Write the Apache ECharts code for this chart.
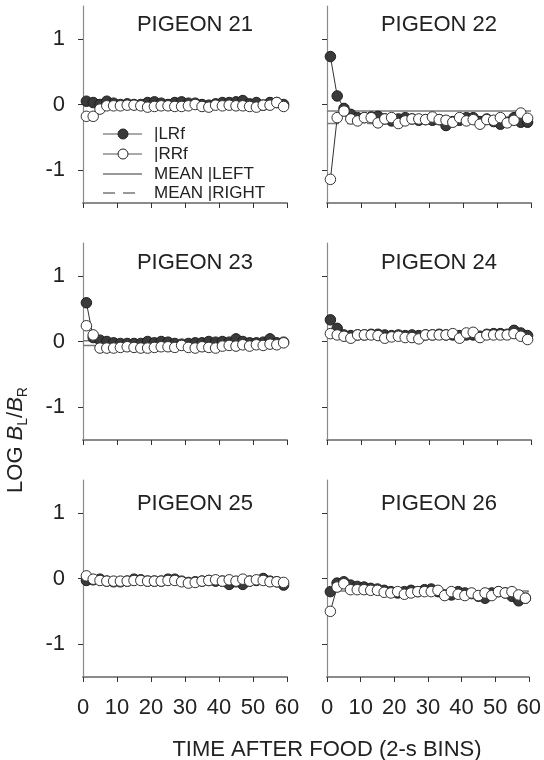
<!DOCTYPE html>
<html><head><meta charset="utf-8">
<script src="https://cdn.jsdelivr.net/npm/echarts@6/dist/echarts.min.js"></script>
<style>html,body{margin:0;padding:0;background:#fff}#c{width:544px;height:760px}</style>
</head><body><div id="c"></div>
<script>
var bins = [1,3,5,7,9,11,13,15,17,19,21,23,25,27,29,31,33,35,37,39,41,43,45,47,49,51,53,55,57,59];
var xTicks = [0,10,20,30,40,50,60];
var yTicks = [-1,0,1];
var panelTitles = ['PIGEON 21','PIGEON 22','PIGEON 23','PIGEON 24','PIGEON 25','PIGEON 26'];

var p21L = [0.05,0.03,0.0,0.05,0.02,0.0,0.01,0.0,0.0,0.03,0.04,0.02,0.0,0.03,0.04,0.02,0.02,0.0,-0.01,0.01,0.03,0.03,0.04,0.06,0.01,0.03,-0.01,0.03,0.03,0.0];
var p21R = [-0.18,-0.18,-0.07,-0.02,-0.02,-0.02,-0.01,-0.01,-0.02,-0.04,-0.03,-0.02,-0.02,-0.03,-0.03,-0.02,0.0,-0.03,-0.04,-0.01,-0.02,-0.01,-0.02,-0.02,-0.03,-0.04,-0.01,-0.01,0.03,-0.03];
var p22L = [0.73,0.13,-0.06,-0.15,-0.2,-0.2,-0.19,-0.18,-0.22,-0.25,-0.22,-0.2,-0.22,-0.24,-0.23,-0.24,-0.23,-0.32,-0.26,-0.24,-0.2,-0.2,-0.26,-0.22,-0.26,-0.3,-0.27,-0.2,-0.27,-0.27];
var p22R = [-1.14,-0.2,-0.1,-0.22,-0.25,-0.2,-0.2,-0.28,-0.22,-0.2,-0.29,-0.25,-0.22,-0.22,-0.23,-0.19,-0.23,-0.24,-0.27,-0.2,-0.25,-0.23,-0.3,-0.23,-0.24,-0.2,-0.28,-0.24,-0.13,-0.21];
var p23L = [0.59,0.06,0.02,0.0,-0.02,-0.03,-0.03,-0.03,-0.03,0.0,-0.02,0.0,-0.01,-0.03,-0.04,-0.03,-0.02,-0.02,0.0,-0.01,0.0,-0.01,0.04,0.0,-0.02,-0.02,-0.01,0.04,-0.02,-0.01];
var p23R = [0.24,0.1,-0.1,-0.1,-0.1,-0.09,-0.08,-0.09,-0.1,-0.1,-0.09,-0.08,-0.08,-0.09,-0.06,-0.09,-0.1,-0.08,-0.09,-0.1,-0.07,-0.06,-0.07,-0.05,-0.07,-0.05,-0.06,-0.04,-0.05,-0.02];
var p24L = [0.33,0.2,0.1,0.09,0.1,0.1,0.11,0.11,0.1,0.09,0.1,0.09,0.1,0.09,0.1,0.1,0.11,0.1,0.1,0.09,0.1,0.1,0.08,0.11,0.12,0.12,0.11,0.17,0.13,0.09];
var p24R = [0.12,0.1,0.08,0.05,0.1,0.1,0.1,0.09,0.05,0.07,0.08,0.06,0.06,0.04,0.1,0.1,0.1,0.1,0.12,0.05,0.13,0.14,0.06,0.1,0.1,0.1,0.1,0.12,0.08,0.03];
var p25L = [-0.03,-0.02,-0.01,-0.04,-0.05,-0.05,-0.04,-0.01,-0.02,-0.04,-0.04,-0.04,-0.01,-0.01,-0.04,-0.06,-0.05,-0.04,-0.03,-0.04,-0.04,-0.09,-0.05,-0.09,-0.04,-0.03,0.0,-0.04,-0.05,-0.1];
var p25R = [0.04,-0.01,-0.03,-0.04,-0.04,-0.04,-0.04,-0.03,-0.03,-0.04,-0.04,-0.04,-0.03,-0.03,-0.05,-0.07,-0.06,-0.04,-0.03,-0.02,-0.04,-0.02,-0.04,-0.01,-0.04,-0.02,-0.03,-0.05,-0.05,-0.06];
var p26L = [-0.2,-0.07,-0.05,-0.1,-0.12,-0.13,-0.15,-0.16,-0.18,-0.2,-0.22,-0.2,-0.18,-0.2,-0.17,-0.16,-0.2,-0.25,-0.25,-0.2,-0.22,-0.23,-0.27,-0.3,-0.22,-0.2,-0.22,-0.27,-0.34,-0.3];
var p26R = [-0.5,-0.13,-0.08,-0.17,-0.17,-0.17,-0.18,-0.18,-0.21,-0.22,-0.2,-0.24,-0.22,-0.2,-0.2,-0.2,-0.18,-0.26,-0.2,-0.24,-0.26,-0.22,-0.26,-0.22,-0.26,-0.2,-0.22,-0.2,-0.25,-0.3];

var meanLeft  = [0.02,-0.10,0.01,0.10,-0.04,-0.19];
var meanRight = [-0.01,-0.29,-0.06,0.09,-0.03,-0.20];

var leftSeries  = [p21L,p22L,p23L,p24L,p25L,p26L];
var rightSeries = [p21R,p22R,p23R,p24R,p25R,p26R];

var FONT = '"Liberation Sans", Arial, sans-serif';
var gridTops = [6,243,480], gridLefts = [83,327], GH = 197, GW = 204;
var titleTops = [9,247,488];
var grids = [], xAxes = [], yAxes = [], series = [], titles = [];

function pairs(ys){ return bins.map(function(x,i){ return [x, ys[i]]; }); }

for (var p = 0; p < 6; p++) {
  var r = Math.floor(p/2), c = p%2;
  grids.push({left: gridLefts[c], top: gridTops[r], width: GW, height: GH});
  titles.push({text: panelTitles[p], left: gridLefts[c] + GW/2 + 5, top: titleTops[r], textAlign: 'center',
    textStyle: {fontFamily: FONT, fontSize: 22, fontWeight: 'normal', color: '#222'}});
  xAxes.push({type: 'value', gridIndex: p, min: 0, max: 60, interval: 10,
    axisLine: {show: true, onZero: false, lineStyle: {color: '#8a8a8a', width: 2}},
    axisTick: {show: true, length: 5, lineStyle: {color: '#333', width: 1}},
    axisLabel: {show: r === 2, fontFamily: FONT, fontSize: 22, color: '#222', margin: 20, customValues: xTicks},
    splitLine: {show: false}});
  yAxes.push({type: 'value', gridIndex: p, min: -1.5, max: 1.5,
    axisLine: {show: true, onZero: false, lineStyle: {color: '#8a8a8a', width: 1.2}},
    axisTick: {show: true, length: 5, customValues: yTicks, lineStyle: {color: '#333', width: 1}},
    axisLabel: {show: c === 0, fontFamily: FONT, fontSize: 22, color: '#222', margin: 18, customValues: yTicks},
    splitLine: {show: false}});
  series.push({type: 'line', xAxisIndex: p, yAxisIndex: p, data: [[0, meanLeft[p]], [60, meanLeft[p]]],
    showSymbol: false, lineStyle: {color: '#7a7a7a', width: 1.5}, z: 1, silent: true});
  series.push({type: 'line', xAxisIndex: p, yAxisIndex: p, data: [[0, meanRight[p]], [60, meanRight[p]]],
    showSymbol: false, lineStyle: {color: '#7a7a7a', width: 1.5, type: [12, 8]}, z: 1, silent: true});
  series.push({type: 'line', xAxisIndex: p, yAxisIndex: p, data: pairs(leftSeries[p]),
    symbol: 'circle', symbolSize: 10.5, showAllSymbol: true,
    itemStyle: {color: '#3a3a3a', borderColor: '#1e1e1e', borderWidth: 1},
    lineStyle: {color: '#333', width: 1}, z: 2});
  series.push({type: 'line', xAxisIndex: p, yAxisIndex: p, data: pairs(rightSeries[p]),
    symbol: 'circle', symbolSize: 10.5, showAllSymbol: true,
    itemStyle: {color: '#ffffff', borderColor: '#333', borderWidth: 1},
    lineStyle: {color: '#333', width: 1}, z: 3});
}

var legendRows = [134, 154, 174, 193];
var legendTexts = ['|LRf', '|RRf', 'MEAN |LEFT', 'MEAN |RIGHT'];
var graphics = [];
for (var i = 0; i < 4; i++) {
  var y = legendRows[i];
  var lineStyle = {stroke: i < 2 ? '#555' : '#333', lineWidth: 1};
  if (i === 3) lineStyle.lineDash = [12, 8];
  graphics.push({type: 'line', shape: {x1: 103, y1: y, x2: 142, y2: y}, style: lineStyle, z: 10});
  if (i < 2) {
    graphics.push({type: 'circle', shape: {cx: 123, cy: y, r: 5},
      style: {fill: i === 0 ? '#3a3a3a' : '#fff', stroke: '#222', lineWidth: 1}, z: 11});
  }
  graphics.push({type: 'text', x: 154, y: y, style: {text: legendTexts[i], fontFamily: FONT, fontSize: 17,
    fill: '#222', verticalAlign: 'middle', align: 'left'}, z: 11});
}
graphics.push({type: 'text', x: 327, y: 750, style: {text: 'TIME AFTER FOOD (2-s BINS)', fontFamily: FONT,
  fontSize: 22, fill: '#222', align: 'center', verticalAlign: 'middle'}});
graphics.push({type: 'text', x: 16, y: 440, rotation: Math.PI/2, style: {
  text: '{n|LOG }{i|B}{s|L}{n|/}{i|B}{s|R}', align: 'center', verticalAlign: 'middle',
  rich: {
    n: {fontFamily: FONT, fontSize: 22, fill: '#222', lineHeight: 28},
    i: {fontFamily: FONT, fontSize: 22, fontStyle: 'italic', fill: '#222', lineHeight: 28},
    s: {fontFamily: FONT, fontSize: 14, fill: '#222', lineHeight: 28, verticalAlign: 'bottom'}
  }}});

var chart = echarts.init(document.getElementById('c'), null, {renderer: 'canvas'});
chart.setOption({
  animation: false,
  backgroundColor: '#fff',
  title: titles,
  grid: grids,
  xAxis: xAxes,
  yAxis: yAxes,
  series: series,
  graphic: graphics
});
</script></body></html>
